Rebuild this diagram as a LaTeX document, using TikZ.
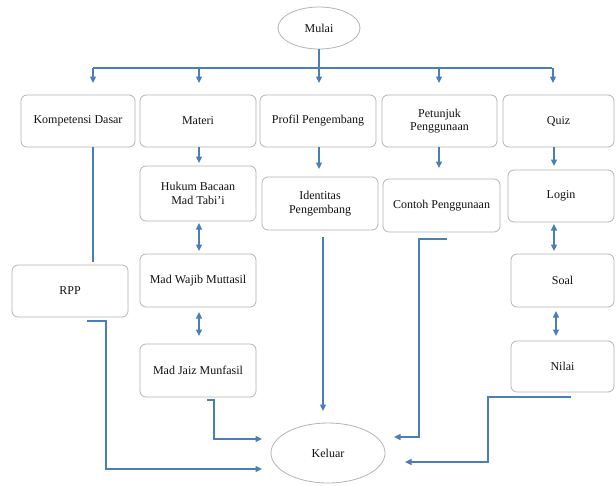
\documentclass[tikz,border=0pt]{standalone}
\usepackage{fontspec}
\setmainfont{Liberation Serif}
\usetikzlibrary{arrows.meta,shapes.geometric,calc}
\definecolor{lnc}{HTML}{4A7EBB}
\definecolor{bdc}{HTML}{B5B5B5}
\definecolor{txc}{HTML}{111111}
\begin{document}
\begin{tikzpicture}[x=1pt,y=-1pt, font=\fontsize{12}{13.5}\selectfont, text=txc,
 bx/.style 2 args={draw=bdc, line width=0.8pt, rounded corners=6pt, fill=white, align=center, inner sep=0pt, minimum width=#1pt, minimum height=#2pt},
 oval/.style 2 args={ellipse, draw=bdc, line width=0.8pt, fill=white, inner sep=0pt, minimum width=#1pt, minimum height=#2pt},
 ln/.style={draw=lnc, line width=1.4pt},
 arr/.style={ln, -{Triangle[length=6.5pt,width=6pt]}},
 darr/.style={ln, {Triangle[length=6.5pt,width=6pt]}-{Triangle[length=6.5pt,width=6pt]}}]
\useasboundingbox[fill=white] (0,0) rectangle (616,485);

% nodes
\node[oval={82}{42}] (mulai) at (319,28) {Mulai};
\node[bx={114}{52}] (kd) at (78,121) {Kompetensi Dasar};
\node[bx={116}{52}] (mat) at (198,121) {Materi};
\node[bx={116}{52}] (prof) at (318,121) {Profil Pengembang};
\node[bx={115}{52}] (pet) at (439.5,121) {Petunjuk\\Penggunaan};
\node[bx={111}{52}] (quiz) at (558.5,121) {Quiz};

\node[bx={116}{55}] (hukum) at (198,193.5) {Hukum Bacaan\\Mad Tabi'i};
\node[bx={116}{53}] (wajib) at (198,280.5) {Mad Wajib Muttasil};
\node[bx={116}{53}] (jaiz) at (198,370.5) {Mad Jaiz Munfasil};

\node[bx={116}{53}] (ident) at (320,203.5) {Identitas\\Pengembang};
\node[bx={117}{53}] (contoh) at (441.5,205.5) {Contoh Penggunaan};

\node[bx={106}{52}] (login) at (561,196) {Login};
\node[bx={103}{53}] (soal) at (562.5,280.5) {Soal};
\node[bx={103}{51}] (nilai) at (562.5,366.5) {Nilai};

\node[bx={116}{52}] (rpp) at (70,291) {RPP};

\node[oval={114}{60}] (keluar) at (328,453) {Keluar};

% top distribution
\coordinate (j) at (319,68);
\coordinate (hl) at (93,68);
\coordinate (hr) at (552,68);
\draw[ln] (mulai) -- (j);
\draw[ln] (hl) -- (hr);
\foreach \xx in {93,199,319,439,553} \draw[arr] (\xx,68) -- (\xx,83);

% column links
\draw[arr] (199,147) -- (199,163);
\draw[arr] (319,147) -- (319,169);
\draw[arr] (439,147) -- (439,168);
\draw[arr] (554,147) -- (554,166);

\draw[darr] (199,223) -- (199,251);
\draw[darr] (199,312) -- (199,336);
\draw[darr] (554,224) -- (554,251);
\draw[darr] (556,311) -- (556,336);

\draw[ln] (93,147) -- (93,262);

% to Keluar
\draw[arr] (87,321) -- (106,321) -- (106,469) -- (262,469);
\draw[arr] (207,400) -- (214,400) -- (214,439) -- (262,439);
\draw[arr] (323,237) -- (323,411);
\draw[arr] (447,239) -- (419,239) -- (419,437) -- (394,437);
\draw[arr] (571,397) -- (488,397) -- (488,462) -- (405,462);
\end{tikzpicture}
\end{document}
